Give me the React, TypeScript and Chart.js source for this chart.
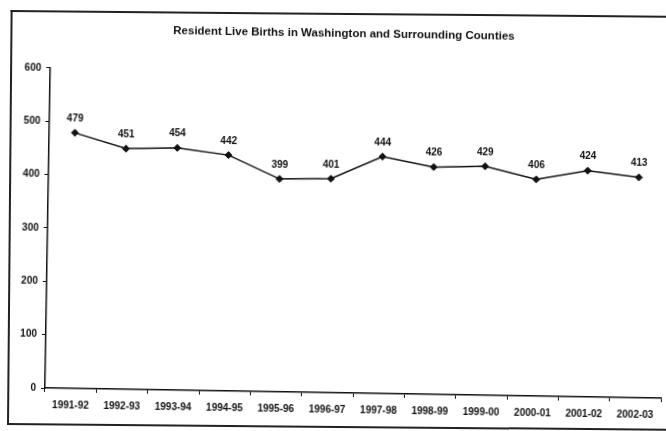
import React, { useEffect, useRef } from "react";
import { Chart, registerables } from "chart.js";

Chart.register(...registerables);

const categories = [
  "1991-92", "1992-93", "1993-94", "1994-95", "1995-96", "1996-97",
  "1997-98", "1998-99", "1999-00", "2000-01", "2001-02", "2002-03",
];
const births = [479, 451, 454, 442, 399, 401, 444, 426, 429, 406, 424, 413];
const yMin = 0;
const yMax = 600;
const yStep = 100;
const chartTitle = "Resident Live Births in Washington and Surrounding Counties";

const FONT = '"Liberation Sans", Arial, sans-serif';

const pointLabels = {
  id: "pointLabels",
  afterDatasetsDraw(chart: any) {
    const ctx = chart.ctx;
    const meta = chart.getDatasetMeta(0);
    ctx.save();
    ctx.font = `bold 10px ${FONT}`;
    ctx.fillStyle = "#111";
    ctx.textAlign = "center";
    ctx.textBaseline = "middle";
    meta.data.forEach((el: any, i: number) => {
      ctx.fillText(String(births[i]), el.x, el.y - 14);
    });
    ctx.restore();
  },
};

export default function App() {
  const ref = useRef<HTMLCanvasElement | null>(null);

  useEffect(() => {
    if (!ref.current) return;
    const chart = new Chart(ref.current, {
      type: "line",
      data: {
        labels: categories,
        datasets: [
          {
            data: births,
            borderColor: "#111",
            borderWidth: 1.5,
            backgroundColor: "#111",
            pointStyle: "rectRot",
            pointRadius: 3.5,
            pointBackgroundColor: "#111",
            pointBorderColor: "#111",
            pointBorderWidth: 1,
            tension: 0,
            fill: false,
          },
        ],
      },
      options: {
        responsive: false,
        animation: false,
        events: [],
        layout: { padding: { left: 12, right: 2, top: 0, bottom: 0 } },
        plugins: {
          legend: { display: false },
          tooltip: { enabled: false },
          title: {
            display: true,
            text: chartTitle,
            color: "#111",
            font: { family: FONT, size: 11.5, weight: "bold" },
            padding: { top: 22, bottom: 32 },
          },
        },
        scales: {
          x: {
            type: "category",
            offset: true,
            grid: {
              display: true,
              drawOnChartArea: false,
              drawTicks: true,
              tickLength: 4,
              color: "#111",
              lineWidth: 1,
              offset: true,
            },
            border: { display: true, color: "#111", width: 1.5 },
            ticks: {
              color: "#111",
              font: { family: FONT, size: 10, weight: "bold" },
              padding: 7,
              maxRotation: 0,
              autoSkip: false,
            },
            afterFit(scale: any) {
              scale.height = 43;
            },
          },
          y: {
            min: yMin,
            max: yMax,
            grid: {
              display: true,
              drawOnChartArea: false,
              drawTicks: true,
              tickLength: 4,
              color: "#111",
              lineWidth: 1,
            },
            border: { display: true, color: "#111", width: 1.5 },
            ticks: {
              stepSize: yStep,
              color: "#111",
              font: { family: FONT, size: 10, weight: "bold" },
              padding: 5,
            },
            afterFit(scale: any) {
              scale.width = 33;
            },
          },
        },
      },
      plugins: [pointLabels],
    });
    return () => chart.destroy();
  }, []);

  return (
    <div
      style={{
        position: "absolute",
        left: 0,
        top: 0,
        width: 666,
        height: 431,
        overflow: "hidden",
        background: "#fff",
      }}
    >
      <div
        style={{
          position: "absolute",
          left: 7,
          top: 10,
          width: 720,
          height: 415,
          boxSizing: "border-box",
          borderTop: "2px solid #222",
          borderLeft: "2px solid #222",
          borderBottom: "2px solid #222",
          transform: "rotate(0.5deg)",
          transformOrigin: "0px 415px",
        }}
      />
      <div
        style={{
          position: "absolute",
          left: 0,
          top: 0,
          width: 666,
          height: 431,
          transform: "rotate(0.95deg)",
          transformOrigin: "45px 388px",
        }}
      >
        <canvas
          ref={ref}
          width={666}
          height={431}
          style={{ position: "absolute", left: 0, top: 0, width: 666, height: 431 }}
        />
      </div>
    </div>
  );
}
